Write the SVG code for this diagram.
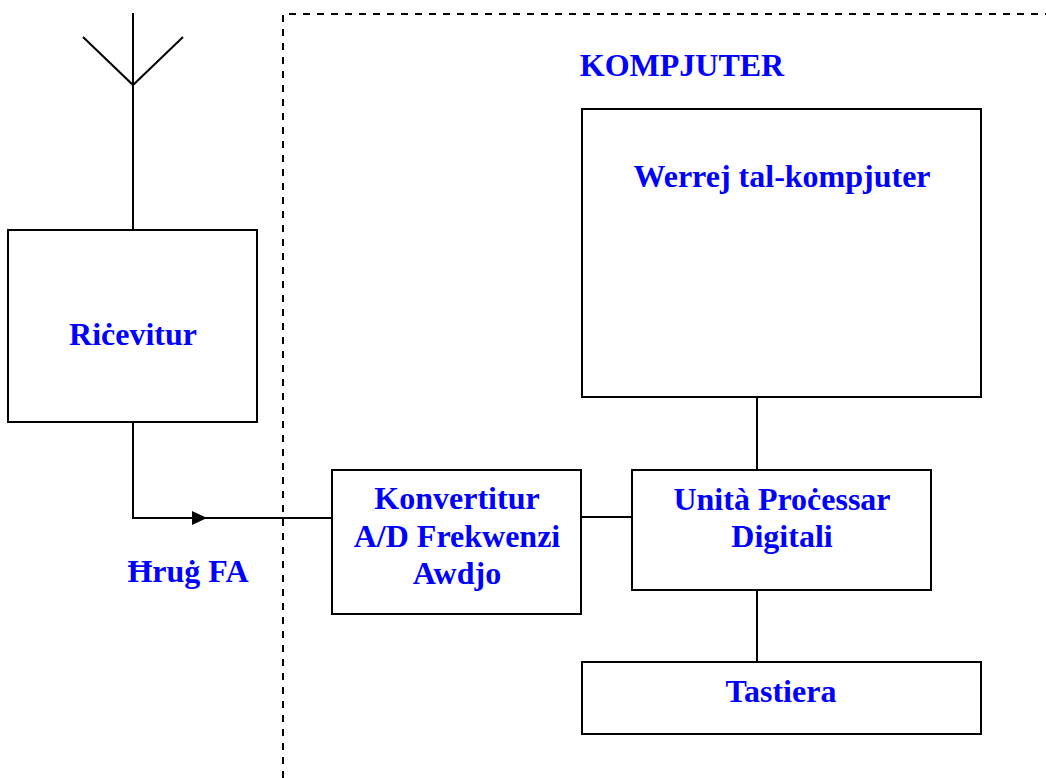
<svg xmlns="http://www.w3.org/2000/svg" width="1046" height="778" viewBox="0 0 1046 778">
<style>
.box{fill:#fff;stroke:#000;stroke-width:2}
.ln{fill:none;stroke:#000;stroke-width:2}
.dash{fill:none;stroke:#000;stroke-width:2;stroke-dasharray:7 7}
.t{font-family:"Liberation Serif","Times New Roman",serif;font-weight:bold;font-size:32px;fill:#0000ff;text-anchor:middle}
</style>
<defs>
<marker id="arr" markerWidth="16" markerHeight="14" refX="15" refY="7" orient="auto" markerUnits="userSpaceOnUse">
<path d="M0,0 L15,7 L0,14 Z" fill="#000"/>
</marker>
</defs>
<rect width="1046" height="778" fill="#fff"/>
<g id="boundary">
<path class="dash" d="M283,778 L283,14 L1046,14"/>
<text class="t" x="682" y="76">KOMPJUTER</text>
</g>
<g id="antenna">
<path class="ln" d="M133,13 L133,230 M83,37 L133,85 L183,37"/>
</g>
<g id="connectors">
<path class="ln" d="M133,422 L133,518 L207,518" marker-end="url(#arr)"/>
<path class="ln" d="M205,518 L332,518"/>
<path class="ln" d="M581,517 L632,517"/>
<path class="ln" d="M757,397 L757,470"/>
<path class="ln" d="M757,590 L757,662"/>
<text class="t" x="188" y="582">Ħruġ FA</text>
</g>
<g id="ricevitur">
<rect class="box" x="8" y="230" width="249" height="192"/>
<text class="t" x="133" y="345">Riċevitur</text>
</g>
<g id="konvertitur">
<rect class="box" x="332" y="470" width="249" height="144"/>
<text class="t" x="457" y="509">Konvertitur</text>
<text class="t" x="457" y="547">A/D Frekwenzi</text>
<text class="t" x="457" y="584">Awdjo</text>
</g>
<g id="werrej">
<rect class="box" x="582" y="109" width="399" height="288"/>
<text class="t" x="782" y="187">Werrej tal-kompjuter</text>
</g>
<g id="unita">
<rect class="box" x="632" y="470" width="299" height="120"/>
<text class="t" x="782" y="510">Unità Proċessar</text>
<text class="t" x="782" y="547">Digitali</text>
</g>
<g id="tastiera">
<rect class="box" x="582" y="662" width="399" height="72"/>
<text class="t" x="781" y="702">Tastiera</text>
</g>
</svg>
